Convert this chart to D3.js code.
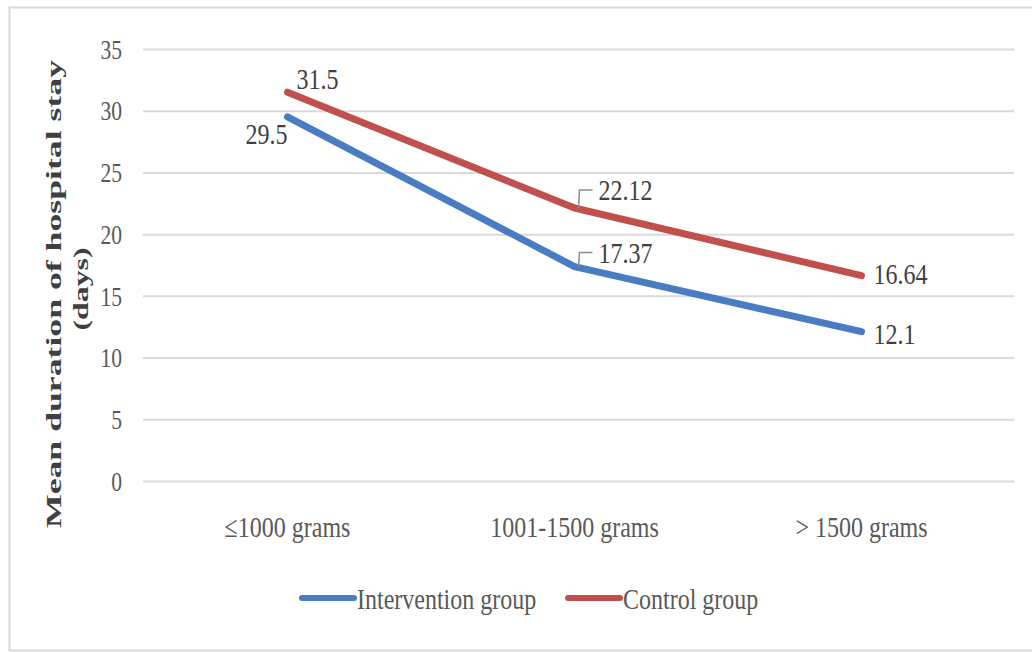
<!DOCTYPE html>
<html>
<head>
<meta charset="utf-8">
<script src="https://cdn.jsdelivr.net/npm/d3@7"></script>
<style>
  body { margin: 0; background: #fff; }
  svg { display: block; }
</style>
</head>
<body>
<div id="chart"></div>
<script>
// Chart data
const categories = ["\u22641000 grams", "1001-1500 grams", "> 1500 grams"];
const interventionValues = [29.5, 17.37, 12.1];
const controlValues = [31.5, 22.12, 16.64];
const seriesNames = ["Intervention group", "Control group"];
const yTicks = [0, 5, 10, 15, 20, 25, 30, 35];

const width = 1032, height = 652;
const plot = { left: 143, right: 1014, top: 49, bottom: 481 };
const squeeze = 0.8; // text in the picture is narrow
const serif = "'Liberation Serif', 'Times New Roman', serif";

const svg = d3.select("#chart")
    .append("svg")
    .attr("width", width)
    .attr("height", height);

// Outer frame
svg.append("rect")
    .attr("x", 9.5).attr("y", 7.5)
    .attr("width", 1040).attr("height", 643)
    .attr("fill", "none")
    .attr("stroke", "#d9d9d9")
    .attr("stroke-width", 2);

// Scales
const x = d3.scalePoint()
    .domain(categories)
    .range([144, 1005])
    .padding(0.5);

const y = d3.scaleLinear()
    .domain([0, 35])
    .range([plot.bottom, plot.top]);

// Y axis with gridlines
const yAxisGroup = svg.append("g")
    .attr("transform", `translate(${plot.left},0)`)
    .call(d3.axisLeft(y).tickValues(yTicks).tickSize(-(plot.right - plot.left)).tickFormat(d3.format("d")));

yAxisGroup.select(".domain").remove();
yAxisGroup.selectAll(".tick line")
    .attr("stroke", "#d9d9d9")
    .attr("stroke-width", 2);
yAxisGroup.selectAll(".tick text")
    .attr("x", -21 / squeeze)
    .attr("dy", "0.34em")
    .attr("transform", `scale(${squeeze},1)`)
    .style("font-family", serif)
    .style("font-size", "27px")
    .attr("fill", "#595959");

// Category labels under the plot
svg.append("g")
    .selectAll("text")
    .data(categories)
    .join("text")
    .attr("transform", d => `translate(${x(d)},537) scale(${squeeze},1)`)
    .attr("text-anchor", "middle")
    .style("font-family", serif)
    .style("font-size", "30px")
    .attr("fill", "#595959")
    .text(d => d);

// Y axis title (two lines)
const yTitle = svg.append("g")
    .style("font-family", serif)
    .style("font-weight", "bold")
    .style("font-size", "21px")
    .attr("fill", "#404040");

yTitle.append("text")
    .attr("transform", "translate(61,294) rotate(-90)")
    .attr("text-anchor", "middle")
    .attr("textLength", 468)
    .attr("lengthAdjust", "spacingAndGlyphs")
    .text("Mean duration of hospital stay");

yTitle.append("text")
    .attr("transform", "translate(88,289) rotate(-90)")
    .attr("text-anchor", "middle")
    .attr("textLength", 83)
    .attr("lengthAdjust", "spacingAndGlyphs")
    .text("(days)");

// Lines
const series = [
    { name: seriesNames[0], values: interventionValues, color: "#4a7cc2" },
    { name: seriesNames[1], values: controlValues, color: "#c0504d" }
];

const line = d3.line()
    .x((d, i) => x(categories[i]))
    .y(d => y(d));

svg.append("g")
    .selectAll("path")
    .data(series)
    .join("path")
    .attr("d", d => line(d.values))
    .attr("fill", "none")
    .attr("stroke", d => d.color)
    .attr("stroke-width", 7)
    .attr("stroke-linecap", "round")
    .attr("stroke-linejoin", "round");

// Data labels: offset from each point (dx, dy, anchor, leader line)
const labelSpots = [
    [ { dx: 0, dy: 27, anchor: "end" }, { dx: 24, dy: -4, anchor: "start", leader: true }, { dx: 12, dy: 12, anchor: "start" } ],
    [ { dx: 9, dy: -3, anchor: "start" }, { dx: 24, dy: -8, anchor: "start", leader: true }, { dx: 12, dy: 8, anchor: "start" } ]
];

const labels = [];
series.forEach((s, si) => {
    s.values.forEach((v, i) => {
        labels.push({ v, px: x(categories[i]), py: y(v), spot: labelSpots[si][i] });
    });
});

const labelGroup = svg.append("g");

labelGroup.selectAll("path")
    .data(labels.filter(d => d.spot.leader))
    .join("path")
    .attr("d", d => `M${d.px + 4},${d.py} L${d.px + 5},${d.py + d.spot.dy - 10} L${d.px + 18},${d.py + d.spot.dy - 10}`)
    .attr("fill", "none")
    .attr("stroke", "#8c8c8c")
    .attr("stroke-width", 1.5);

labelGroup.selectAll("text")
    .data(labels)
    .join("text")
    .attr("transform", d => `translate(${d.px + d.spot.dx},${d.py + d.spot.dy}) scale(${squeeze},1)`)
    .attr("text-anchor", d => d.spot.anchor)
    .style("font-family", serif)
    .style("font-size", "30px")
    .attr("fill", "#404040")
    .text(d => d.v);

// Legend
const legendX = [302, 568];
const legend = svg.append("g")
    .selectAll("g")
    .data(series)
    .join("g")
    .attr("transform", (d, i) => `translate(${legendX[i]},598)`);

legend.append("line")
    .attr("x1", 0).attr("x2", 52)
    .attr("stroke", d => d.color)
    .attr("stroke-width", 6)
    .attr("stroke-linecap", "round");

legend.append("text")
    .attr("transform", `translate(55,11) scale(${squeeze},1)`)
    .style("font-family", serif)
    .style("font-size", "30px")
    .attr("fill", "#595959")
    .text(d => d.name);
</script>
</body>
</html>
